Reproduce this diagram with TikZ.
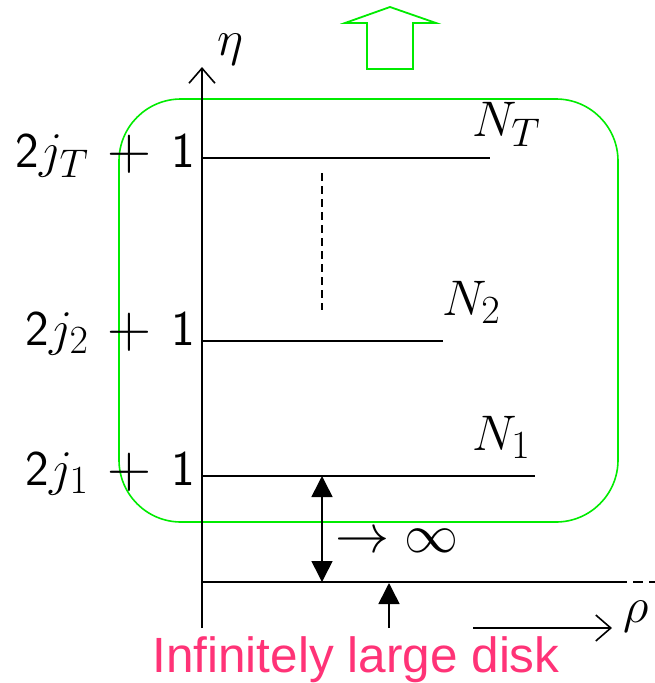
\RequirePackage{fix-cm}
\documentclass[tikz,border=0pt]{standalone}
\usepackage{fontspec}
\usepackage{graphicx}
\newfontfamily\arialfont{Liberation Sans}
\usetikzlibrary{arrows.meta}
\DeclareMathSizes{50}{50}{40}{30}
\definecolor{brightgreen}{RGB}{0,235,0}
\definecolor{diskpink}{RGB}{255,51,119}
\newcommand{\bigplus}{\mathbin{\raisebox{-2pt}{\scalebox{1.22}{$+$}}}}
\tikzset{
  axisline/.style={line width=1.6pt, black},
  levelline/.style={line width=1.6pt, black},
  bigmath/.style={inner sep=0pt, font=\fontsize{50}{54}\selectfont},
  infmath/.style={inner sep=0pt, font=\fontsize{54}{58}\selectfont},
  filledtip/.style={-{Triangle[length=21pt,width=21pt]}},
  openaxis/.style={-{Straight Barb[length=15pt,width=26pt,line width=1.6pt]}},
}
\begin{document}
\begin{tikzpicture}[x=1pt,y=-1pt]
\useasboundingbox (0,0) rectangle (655,683);
% green frame
\draw[brightgreen, line width=1.6pt, rounded corners=62pt] (119,99) rectangle (618,522);
% green block arrow
\draw[brightgreen, line width=1.8pt] (390,7) -- (436,23) -- (413,23) -- (413,69) -- (367,69) -- (367,23) -- (345,23) -- cycle;
% coordinates
\coordinate (axB) at (202,628);
\coordinate (axT) at (202,67);
\coordinate (LT0) at (202,158);
\coordinate (LT1) at (490,158);
\coordinate (L20) at (202,341);
\coordinate (L21) at (443,341);
\coordinate (L10) at (202,476);
\coordinate (L11) at (535,476);
\coordinate (B0) at (202,582);
\coordinate (B1) at (617,582);
\coordinate (B2) at (655,582);
\coordinate (D0) at (322,173);
\coordinate (D1) at (322,310);
\coordinate (DA0) at (322,476);
\coordinate (DA1) at (322,582);
\coordinate (UA0) at (389,628);
\coordinate (UA1) at (389,583);
\coordinate (RA0) at (473,628);
\coordinate (RA1) at (612,628);
% axis
\draw[axisline, openaxis] (axB) -- (axT);
\draw[axisline, openaxis] (RA0) -- (RA1);
% levels
\draw[levelline] (LT0) -- (LT1);
\draw[levelline] (L20) -- (L21);
\draw[levelline] (L10) -- (L11);
\draw[levelline] (B0) -- (B1);
\draw[levelline, dash pattern=on 10pt off 6pt] (B1) -- (B2);
\draw[levelline, dash pattern=on 8pt off 5pt] (D0) -- (D1);
% arrows
\draw[levelline, {Triangle[length=21pt,width=21pt]}-{Triangle[length=21pt,width=21pt]}] (DA0) -- (DA1);
\draw[levelline, filledtip] (UA0) -- (UA1);
% labels
\node[bigmath, anchor=base west] (eta) at (217,55) {$\eta$};
\node[bigmath, anchor=base west] (rho) at (623,622) {$\rho$};
\node[bigmath, anchor=base west] (NT) at (472,136) {$N_T$};
\node[bigmath, anchor=base west] (N2) at (442,315) {$N_2$};
\node[bigmath, anchor=base west] (N1) at (472,450) {$N_1$};
\node[bigmath, anchor=base east] (jT) at (195,167) {$\mathsf{2}j_T\,\bigplus\,\mathsf{1}$};
\node[bigmath, anchor=base east] (j2) at (195,345) {$\mathsf{2}j_2\,\bigplus\,\mathsf{1}$};
\node[bigmath, anchor=base east] (j1) at (195,485) {$\mathsf{2}j_1\,\bigplus\,\mathsf{1}$};
\node[infmath, anchor=base west] (inf) at (335,552) {$\to\infty$};
\node[inner sep=0pt, anchor=base, text=diskpink, font=\arialfont\fontsize{49.5}{52}\selectfont] (disk) at (356,672) {Infinitely large disk};
\end{tikzpicture}
\end{document}
